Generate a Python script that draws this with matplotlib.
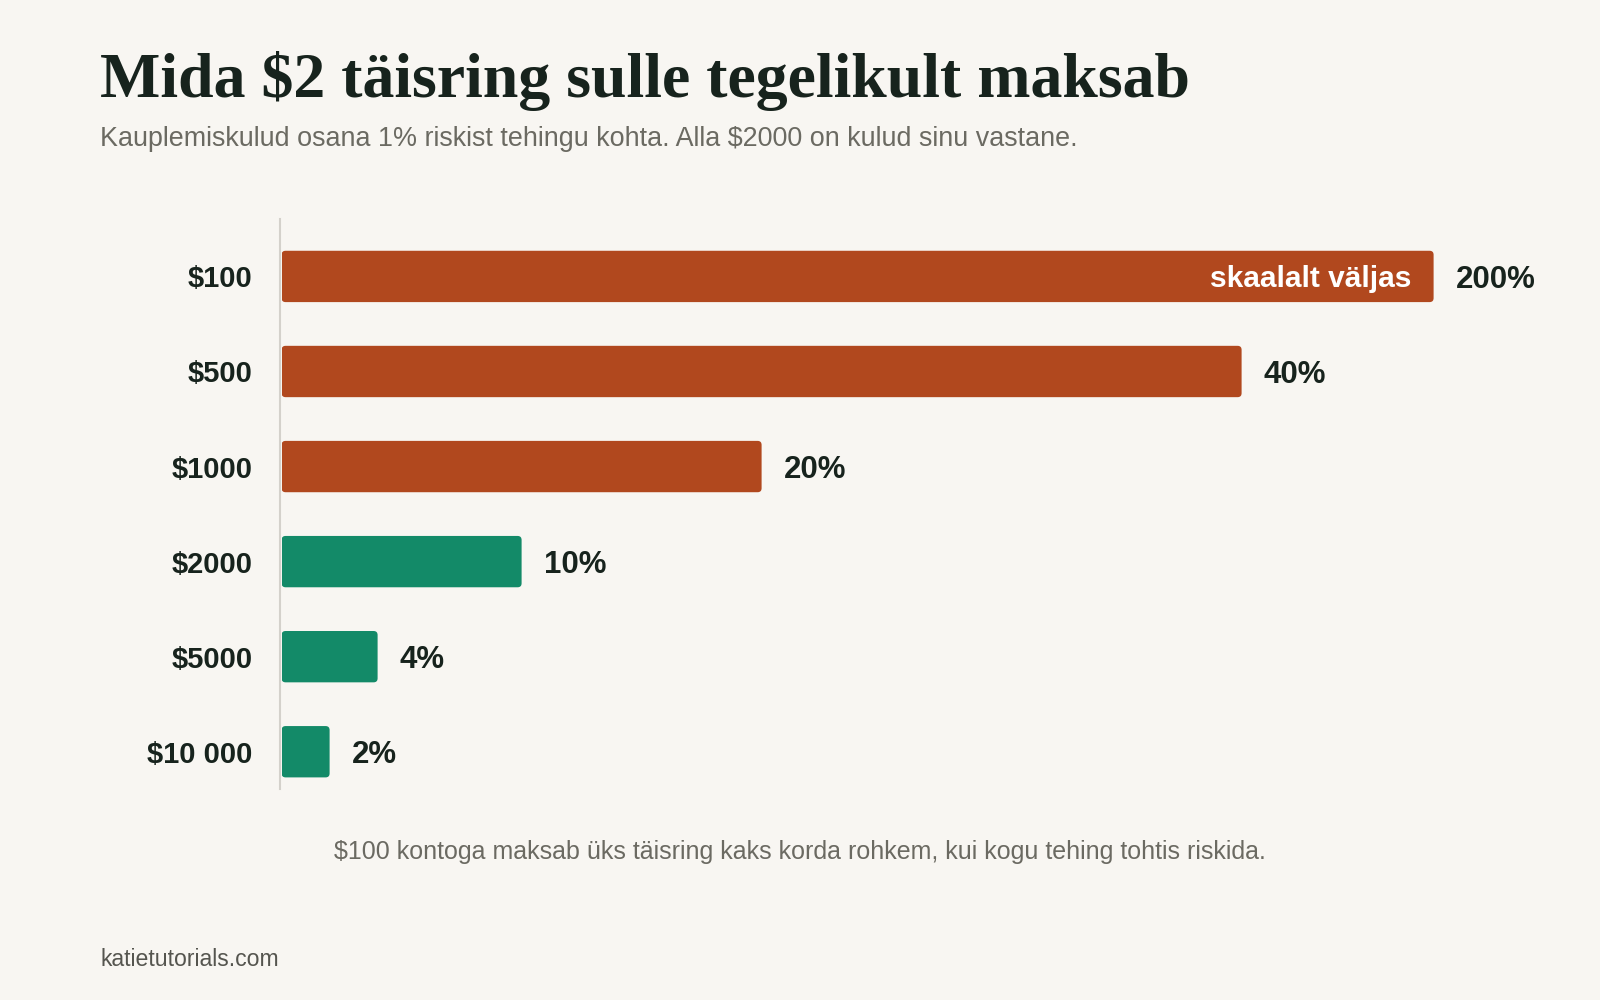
import numpy as np
import matplotlib.pyplot as plt
from matplotlib.patches import FancyBboxPatch

accounts = ["$100", "$500", "$1000", "$2000", "$5000", "$10 000"]
cost_pct = [200, 40, 20, 10, 4, 2]
value_labels = ["200%", "40%", "20%", "10%", "4%", "2%"]
losing = [True, True, True, False, False, False]
scale_cap = 48

bg = "#f8f6f2"
red = "#b1481e"
green = "#138a68"
ink = "#17231d"
grey = "#6b6a62"

W, H = 1600, 1000
fig = plt.figure(figsize=(16, 10), dpi=100, facecolor=bg)

# axes placed in pixel terms
left, right = 281.6, 1529.6
top, bottom = 219.4, 788.8
ax = fig.add_axes([left / W, 1 - bottom / H, (right - left) / W, (bottom - top) / H])
ax.set_facecolor(bg)
ax.set_xlim(0, 52)
ax.set_ylim(5.39, -0.60)

y = np.arange(len(accounts))
shown = [min(v, scale_cap) for v in cost_pct]
colors = [red if l else green for l in losing]
bars = ax.barh(y, shown, height=0.54, color=colors)

# swap to rounded rectangles
px_x = (right - left) / 52
px_y = (bottom - top) / 5.99
for b in bars:
    b.set_visible(False)
    fb = FancyBboxPatch((b.get_x(), b.get_y()), b.get_width(), b.get_height(),
                        boxstyle="round,pad=0,rounding_size=%f" % (4 / px_x),
                        mutation_aspect=px_x / px_y,
                        fc=b.get_facecolor(), ec="none")
    ax.add_patch(fb)

for i, (v, s, lab) in enumerate(zip(cost_pct, shown, value_labels)):
    ax.text(s + 22 / px_x, i, lab, ha="left", va="center_baseline",
            fontsize=22.5, fontweight="bold", color=ink, family="Liberation Sans")
    if v > scale_cap:
        ax.text(s - 22 / px_x, i, "skaalalt väljas", ha="right", va="center_baseline",
                fontsize=21.5, fontweight="bold", color="white", family="Liberation Sans")

for sp in ["top", "right", "bottom"]:
    ax.spines[sp].set_visible(False)
ax.spines["left"].set_color("#d4d1cb")
ax.spines["left"].set_linewidth(1.5)
ax.spines["left"].set_position(("data", -2 / px_x))

ax.set_xticks([])
ax.set_yticks(y)
ax.set_yticklabels(accounts, fontsize=21, fontweight="bold", color=ink,
                   family="Liberation Sans")
ax.tick_params(axis="y", length=0, pad=19.5)

fig.text(100 / W, 1 - 97 / H, "Mida $2 täisring sulle tegelikult maksab",
         fontsize=46, fontweight="bold", color=ink, family="Liberation Serif",
         va="baseline", ha="left")
fig.text(100 / W, 1 - 146 / H,
         "Kauplemiskulud osana 1% riskist tehingu kohta. Alla $2000 on kulud sinu vastane.",
         fontsize=19.4, color=grey, family="Liberation Sans", va="baseline", ha="left")
fig.text(800 / W, 1 - 859 / H,
         "$100 kontoga maksab üks täisring kaks korda rohkem, kui kogu tehing tohtis riskida.",
         fontsize=18, color=grey, family="Liberation Sans", va="baseline", ha="center")
fig.text(100 / W, 1 - 966 / H, "katietutorials.com", fontsize=16.6, color="#55554f",
         family="Liberation Sans", va="baseline", ha="left")

fig.savefig("out.png", dpi=100, facecolor=bg)
